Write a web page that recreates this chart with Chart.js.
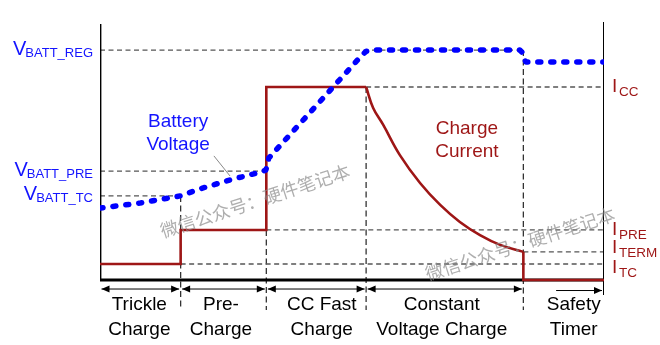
<!DOCTYPE html>
<html>
<head>
<meta charset="utf-8">
<script src="https://cdn.jsdelivr.net/npm/chart.js@4.4.1/dist/chart.umd.min.js"></script>
<style>
  html, body { margin: 0; padding: 0; background: #fff; }
  #wrap { width: 660px; height: 345px; }
</style>
</head>
<body>
<div id="wrap"><canvas id="chart" width="660" height="345"></canvas></div>
<script>
// x = charge time (0..100), y = level (0..100)
const phaseEdges = [0, 16, 33, 52.8, 84, 100];
const phaseLabels = [['Trickle', 'Charge'], ['Pre-', 'Charge'], ['CC Fast', 'Charge'], ['Constant', 'Voltage Charge'], ['Safety', 'Timer']];
const phaseLabelX = [7.8, 24, 44, 67.8, 94];

const levelMain = ['V', 'I', 'V', 'V', 'I', 'I', 'I'];
const levelSub = ['BATT_REG', 'CC', 'BATT_PRE', 'BATT_TC', 'PRE', 'TERM', 'TC'];
const levelValues = [89.1, 74.8, 42.2, 32.6, 19.4, 10.9, 6.2];
const levelFrom = [0, 52.8, 0, 0, 33, 84, 16];
const levelTo = [84, 100, 33, 16, 100, 100, 100];

const dividerX = [16, 33, 52.8, 84];
const dividerTop = [32.6, 19.4, 74.8, 89.1];
const dividerBottom = -11.6;

const voltageX = [0, 7.9, 15.9, 19.8, 25.8, 31.2, 32.9, 33.2, 33.5, 52.0, 52.8, 53.8, 83.3, 83.9, 84.1, 84.5, 100];
const voltageY = [27.9, 29.8, 32.6, 35.3, 38.8, 41.5, 42.6, 44.6, 47.3, 87.2, 88.6, 89.1, 89.1, 88.0, 86.0, 84.5, 84.5];

const currentStepX = [0, 16, 16, 33, 33, 52.8];
const currentStepY = [6.2, 6.2, 19.4, 19.4, 74.8, 74.8];
const currentDecayX = [52.8, 54.2, 56.2, 59.5, 63.5, 67.5, 71.4, 75.4, 79.4, 84];
const currentDecayY = [74.8, 66.7, 60.1, 48.4, 37.6, 29.1, 22.5, 17.4, 13.6, 10.9];
const currentEndX = [84, 84, 100];
const currentEndY = [10.9, 0, 0];

const BLUE = '#0000ff';
const RED = '#9e1616';
const FONT = '"Liberation Sans", Arial, sans-serif';

const pts = (xs, ys) => xs.map((x, i) => ({ x: x, y: ys[i] }));

const datasets = [
  {
    data: pts(voltageX, voltageY),
    borderColor: BLUE,
    borderWidth: 5.5,
    borderDash: [3, 10],
    borderCapStyle: 'round',
    borderJoinStyle: 'round',
  },
  { data: pts(currentDecayX, currentDecayY), borderColor: RED, borderWidth: 2.6, tension: 0.4 },
  { data: pts(currentStepX, currentStepY), borderColor: RED, borderWidth: 2.6 },
  { data: pts(currentEndX, currentEndY), borderColor: RED, borderWidth: 2.6 },
  // leader from "Battery Voltage" label to the curve
  { data: [{ x: 22.6, y: 48.1 }, { x: 25.8, y: 40.3 }], borderColor: '#888', borderWidth: 1 },
  // axes
  { data: [{ x: 0, y: 99.2 }, { x: 0, y: 0 }, { x: 100, y: 0 }], borderColor: '#000', borderWidth: 2.8 },
  { data: [{ x: 100, y: 100 }, { x: 100, y: -5.8 }], borderColor: '#000', borderWidth: 2 },
];

levelValues.forEach((v, i) => {
  datasets.push({
    data: [{ x: levelFrom[i], y: v }, { x: levelTo[i], y: v }],
    borderColor: '#555', borderWidth: 1.3, borderDash: [5, 3.5],
  });
});
dividerX.forEach((x, i) => {
  datasets.push({
    data: [{ x: x, y: dividerTop[i] }, { x: x, y: dividerBottom }],
    borderColor: '#333', borderWidth: 1.3, borderDash: [6, 3.5],
  });
});

function arrowHead(ctx, x, y, dir) {
  ctx.beginPath();
  ctx.moveTo(x, y);
  ctx.lineTo(x - dir * 8, y - 3.5);
  ctx.lineTo(x - dir * 8, y + 3.5);
  ctx.closePath();
  ctx.fill();
}

const annotations = {
  id: 'annotations',
  afterDatasetsDraw(chart) {
    const ctx = chart.ctx;
    const xs = chart.scales.x;
    const ys = chart.scales.y;
    const px = (v) => xs.getPixelForValue(v);
    const py = (v) => ys.getPixelForValue(v);
    ctx.save();

    // phase arrows
    const ay = py(-3.5);
    ctx.strokeStyle = '#000';
    ctx.fillStyle = '#000';
    ctx.lineWidth = 1;
    for (let i = 0; i < 4; i++) {
      const x1 = px(phaseEdges[i]) + 1.5;
      const x2 = px(phaseEdges[i + 1]) - 1.5;
      ctx.beginPath();
      ctx.moveTo(x1, ay);
      ctx.lineTo(x2, ay);
      ctx.stroke();
      arrowHead(ctx, x1, ay, -1);
      arrowHead(ctx, x2, ay, 1);
    }
    const sy = ay + 1.5;
    ctx.beginPath();
    ctx.moveTo(px(90.5), sy);
    ctx.lineTo(px(100) - 2, sy);
    ctx.stroke();
    arrowHead(ctx, px(100) - 2, sy, 1);

    // phase names
    ctx.font = '19px ' + FONT;
    ctx.textAlign = 'center';
    ctx.textBaseline = 'alphabetic';
    phaseLabels.forEach((lines, i) => {
      lines.forEach((t, j) => ctx.fillText(t, px(phaseLabelX[i]), py(0) + 30 + j * 25));
    });

    // level names
    const rightNudge = { CC: 5, PRE: 5, TERM: 1, TC: 9 };
    levelValues.forEach((v, i) => {
      const y = py(v);
      if (levelMain[i] === 'V') {
        ctx.fillStyle = '#1414ff';
        ctx.textAlign = 'right';
        ctx.font = '13px ' + FONT;
        const w = ctx.measureText(levelSub[i]).width;
        ctx.fillText(levelSub[i], 93, y + 6.5);
        ctx.font = '20px ' + FONT;
        ctx.fillText('V', 93 - w + 1, y + 4.5);
      } else {
        const n = rightNudge[levelSub[i]];
        ctx.fillStyle = RED;
        ctx.textAlign = 'left';
        ctx.font = '19px ' + FONT;
        ctx.fillText('I', 612, y + n);
        ctx.font = '13.5px ' + FONT;
        ctx.fillText(levelSub[i], 619, y + n + 4);
      }
    });

    // curve names
    ctx.textAlign = 'center';
    ctx.font = '19px ' + FONT;
    ctx.fillStyle = '#1414ff';
    ctx.fillText('Battery', px(15.5), py(59.3));
    ctx.fillText('Voltage', px(15.5), py(59.3) + 23);
    ctx.fillStyle = RED;
    ctx.fillText('Charge', px(72.8), py(56.6));
    ctx.fillText('Current', px(72.8), py(56.6) + 23);

    // watermark
    ctx.font = '18px "Noto Sans CJK SC", sans-serif';
    ctx.fillStyle = 'rgba(140,140,140,0.7)';
    ctx.textAlign = 'left';
    [[163, 238], [428, 281]].forEach(([x, y]) => {
      ctx.save();
      ctx.translate(x, y);
      ctx.rotate(-18 * Math.PI / 180);
      ctx.fillText('微信公众号：硬件笔记本', 0, 0);
      ctx.restore();
    });
    ctx.restore();
  },
};

new Chart(document.getElementById('chart'), {
  type: 'line',
  data: { datasets: datasets },
  options: {
    responsive: false,
    animation: false,
    layout: { padding: { left: 100, right: 56, top: 22, bottom: 13.4 } },
    elements: { point: { radius: 0 }, line: { tension: 0, fill: false } },
    scales: {
      x: { type: 'linear', min: 0, max: 100, display: false },
      y: { type: 'linear', min: -20, max: 100, display: false },
    },
    plugins: { legend: { display: false }, tooltip: { enabled: false } },
  },
  plugins: [annotations],
});
</script>
</body>
</html>
